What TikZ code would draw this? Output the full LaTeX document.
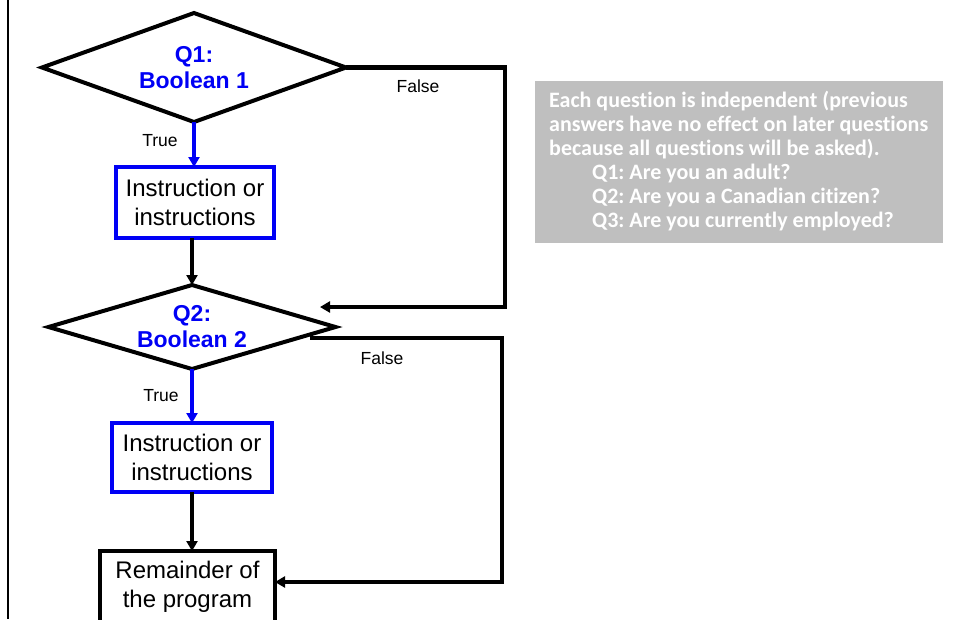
\documentclass[tikz,border=0pt]{standalone}
\usepackage{fontspec}
\setmainfont{Liberation Sans}
\newfontfamily\notefont[Ligatures=NoCommon]{Carlito}
\usetikzlibrary{shapes.geometric,arrows.meta}
\definecolor{qblue}{RGB}{0,0,245}
\definecolor{notegray}{RGB}{191,191,191}
\frenchspacing
\begin{document}
\begin{tikzpicture}[x=1pt,y=-1pt,
  decision/.style={diamond, draw=black, line width=4pt, inner sep=0pt, outer sep=0pt,
    align=center, text=qblue, font=\bfseries\fontsize{23}{26}\selectfont},
  stepbox/.style={rectangle, draw=black, line width=4pt, inner sep=0pt, outer sep=0pt,
    align=center, font=\fontsize{24}{29}\selectfont},
  flow/.style={line width=4.5pt, -{Triangle[length=10pt,width=11pt]}},
  lbl/.style={font=\fontsize{17.5}{21}\selectfont, inner sep=0pt},
  notebox/.style={fill=notegray, inner sep=0pt, minimum width=408pt, minimum height=162pt},
  notetext/.style={inner sep=0pt, text=white, align=left,
    font=\notefont\bfseries\fontsize{22}{24}\selectfont}]
\useasboundingbox (0,0) rectangle (955,619);
\clip (0,0) rectangle (955,619);

% frame line on the left
\draw[line width=2pt] (8,0) -- (8,619);

% flowchart nodes
\node[decision, aspect=2.8, minimum width=304pt, minimum height=109pt] (d1) at (194,67.5) {Q1:\\Boolean 1};
\node[stepbox, draw=qblue, minimum width=158pt, minimum height=71pt] (b1) at (195,202.5) {Instruction or\\instructions};
\node[decision, aspect=3.4, minimum width=287pt, minimum height=84pt] (d2) at (192,327) {Q2:\\Boolean 2};
\node[stepbox, draw=qblue, minimum width=160pt, minimum height=69pt] (b2) at (192,457.5) {Instruction or\\instructions};
\node[stepbox, minimum width=175pt, minimum height=72pt] (b3) at (187.5,587) {Remainder of\\the program};

% helper points for the False branches
\coordinate (r1) at (505,307);
\coordinate (tip1) at (320,307);
\coordinate (f2) at (310,338);
\coordinate (r2) at (502,582);

% connectors
\draw[flow, color=qblue] (d1.south) -- (d1.south |- b1.north);
\draw[flow] (d2.north |- b1.south) -- (d2.north);
\draw[flow, color=qblue] (d2.south) -- (b2.north);
\draw[flow] (b2.south) -- (b2.south |- b3.north);
\draw[flow] (d1.east) -| (r1) -- (tip1);
\draw[flow] (f2) -| (r2) -- (r2 -| b3.east);

% branch labels
\node[lbl] (t1) at (160,141) {True};
\node[lbl] (n1) at (418,86) {False};
\node[lbl] (t2) at (161,396) {True};
\node[lbl] (n2) at (382,358) {False};

% side note
\node[notebox, anchor=north west] (note) at (535,81) {};
\node[notetext, anchor=north west] (notetxt) at (549,91) {Each question is independent (previous\\
answers have no effect on later questions\\
because all questions will be asked).\\
\hspace*{43pt}Q1: Are you an adult?\\
\hspace*{43pt}Q2: Are you a Canadian citizen?\\
\hspace*{43pt}Q3: Are you currently employed?};
\end{tikzpicture}
\end{document}
